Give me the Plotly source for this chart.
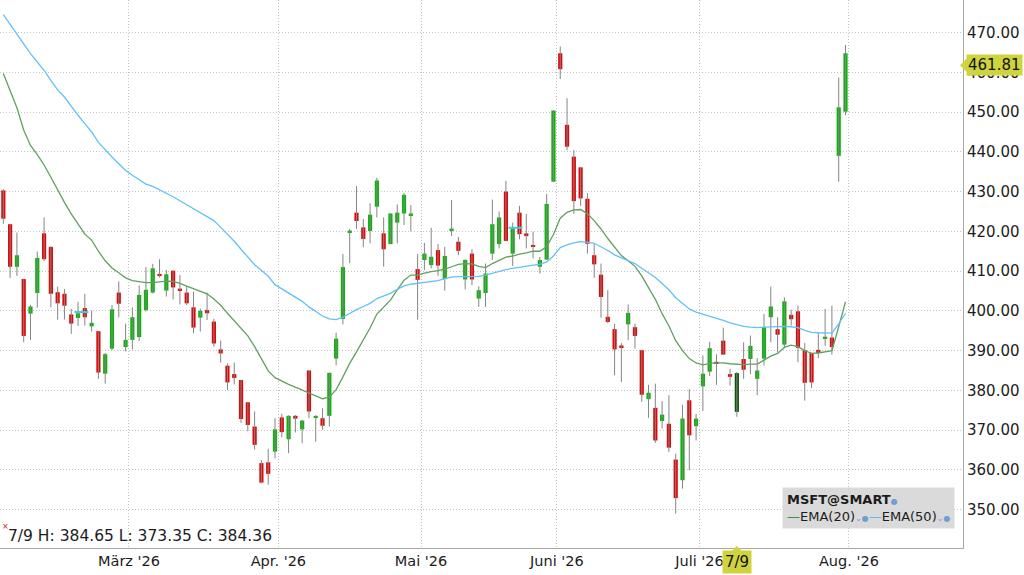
"""
MSFT daily candles (Feb - Jul 2026) with EMA(20) / EMA(50) overlays.
"""

import plotly.graph_objs as go

# trading-day index -> OHLC
opens = [
    430.3, 421.8, 411.1, 408.0, 399.3, 404.5, 419.5, 416.1, 404.7, 404.3,
    399.1, 398.2, 400.7, 396.1, 394.9, 384.2, 390.5, 404.6, 390.9, 392.7,
    393.4, 400.2, 404.6, 409.3, 405.1, 410.1, 405.6, 404.6, 400.9, 398.3,
    400.2, 397.3, 390.3, 386.2, 384.1, 382.6, 377.0, 370.9, 361.7, 361.9,
    364.6, 373.2, 367.7, 373.6, 370.2, 385.0, 373.1, 373.0, 373.6, 388.0,
    398.0, 419.8, 424.7, 421.0, 420.1, 426.2, 419.5, 416.8, 422.2, 424.5,
    424.1, 410.5, 412.8, 411.5, 415.3, 408.0, 420.2, 417.4, 407.9, 414.4,
    403.1, 404.5, 414.4, 416.8, 430.0, 414.4, 424.7, 419.5, 416.5, 411.1,
    412.9, 432.5, 464.8, 446.8, 438.8, 436.1, 428.2, 414.0, 409.1, 398.5,
    395.4, 391.3, 396.6, 395.9, 390.1, 377.8, 375.6, 372.3, 371.6, 362.6,
    357.4, 377.5, 371.0, 381.0, 384.7, 387.2, 392.5, 384.1, 374.6, 387.9,
    387.9, 382.9, 388.0, 398.4, 395.4, 391.5, 399.0, 399.9, 390.1, 389.4,
    390.2, 393.1, 393.3, 439.0, 450.1,
]
highs = [
    430.6, 421.9, 419.7, 408.1, 401.5, 414.9, 423.5, 416.2, 406.1, 405.5,
    400.5, 402.3, 404.3, 400.1, 395.0, 389.4, 401.5, 407.4, 396.8, 400.9,
    406.4, 411.0, 411.8, 413.0, 410.3, 410.2, 409.0, 406.2, 404.8, 400.6,
    404.6, 398.0, 392.5, 386.8, 387.0, 382.7, 377.1, 374.7, 362.5, 365.3,
    373.0, 374.1, 373.7, 373.8, 372.6, 385.1, 373.8, 375.5, 384.5, 394.5,
    414.3, 420.6, 431.4, 423.1, 427.1, 433.5, 423.5, 424.6, 426.8, 429.7,
    426.6, 414.3, 417.1, 420.9, 416.8, 416.1, 427.9, 418.6, 413.0, 415.5,
    406.2, 411.9, 428.0, 425.0, 432.7, 422.2, 426.4, 424.4, 419.9, 413.6,
    429.4, 450.5, 466.5, 453.5, 440.5, 436.2, 429.6, 416.9, 411.9, 405.2,
    396.8, 391.9, 401.6, 396.8, 390.2, 381.4, 381.7, 377.3, 378.8, 364.1,
    376.4, 380.3, 374.1, 388.8, 392.2, 389.1, 395.8, 385.4, 384.65, 392.1,
    393.8, 388.1, 399.2, 406.1, 398.4, 403.4, 400.3, 401.3, 391.9, 389.5,
    394.4, 400.5, 401.3, 458.7, 466.9,
]
lows = [
    421.9, 408.3, 408.8, 392.1, 392.7, 400.8, 412.5, 400.9, 397.8, 397.8,
    394.2, 396.2, 396.3, 394.8, 382.9, 381.7, 390.1, 398.4, 389.8, 390.3,
    392.4, 399.8, 404.4, 408.4, 403.6, 402.9, 401.6, 401.5, 394.4, 394.8,
    397.7, 391.0, 387.0, 380.1, 381.5, 371.8, 369.7, 365.1, 356.6, 356.3,
    362.9, 368.2, 364.2, 369.4, 366.7, 373.0, 367.1, 370.1, 370.9, 386.3,
    396.6, 412.0, 420.6, 416.0, 417.0, 423.5, 411.1, 416.7, 417.0, 421.6,
    420.0, 397.8, 410.3, 410.7, 408.8, 405.1, 418.8, 414.0, 405.4, 406.5,
    401.0, 401.0, 412.8, 415.7, 417.5, 411.3, 418.0, 415.7, 413.2, 409.4,
    412.8, 432.4, 458.3, 440.4, 424.4, 426.4, 414.4, 408.3, 398.3, 396.9,
    383.8, 382.1, 392.6, 390.5, 377.1, 373.1, 366.8, 370.4, 364.5, 349.0,
    355.3, 359.9, 367.4, 374.8, 383.6, 381.4, 388.9, 381.2, 373.35, 382.9,
    384.1, 378.8, 386.3, 392.1, 389.6, 390.7, 396.3, 387.1, 377.4, 380.6,
    388.1, 391.2, 389.0, 432.5, 449.3,
]
closes = [
    423.2, 411.1, 414.0, 393.7, 401.1, 413.3, 413.0, 404.3, 401.9, 401.3,
    396.8, 399.4, 398.4, 397.0, 384.5, 389.1, 400.4, 401.8, 392.7, 398.4,
    404.0, 405.3, 410.7, 408.9, 409.2, 405.9, 405.1, 401.9, 395.8, 400.0,
    399.4, 391.8, 389.3, 382.0, 383.1, 372.8, 371.3, 366.3, 356.8, 359.0,
    370.2, 369.5, 373.6, 372.9, 372.4, 374.7, 373.5, 371.1, 384.4, 393.0,
    411.0, 420.2, 422.6, 418.1, 424.2, 432.8, 415.5, 424.5, 424.7, 429.2,
    424.5, 407.8, 414.4, 413.6, 411.4, 413.8, 420.7, 415.1, 412.8, 407.9,
    405.2, 409.4, 421.8, 423.5, 417.6, 420.7, 419.3, 418.8, 416.1, 412.8,
    426.9, 450.4, 460.8, 441.3, 427.6, 428.3, 416.9, 411.7, 403.5, 397.2,
    390.3, 390.8, 399.5, 393.7, 378.9, 379.4, 367.4, 373.9, 365.6, 352.9,
    372.9, 368.7, 372.9, 384.2, 390.6, 386.8, 389.0, 383.4, 384.36, 385.2,
    391.2, 385.0, 395.9, 401.1, 394.0, 402.4, 397.9, 390.7, 381.9, 382.0,
    389.4, 393.5, 390.9, 451.2, 464.8,
]

ema20 = [
    459.7, 455.5, 451.1, 445.5, 441.6, 439.3, 436.7, 433.6, 430.3, 427.3,
    424.4, 421.7, 419.3, 417.8, 415.0, 412.6, 410.8, 409.6, 408.3, 407.6,
    407.3, 407.1, 407.1, 407.3, 407.5, 407.4, 406.9, 406.2, 405.5, 404.9,
    404.3, 403.0, 401.4, 399.4, 397.5, 395.6, 393.7, 391.0, 387.8, 384.9,
    383.2, 382.3, 381.5, 380.8, 380.1, 379.4, 378.5, 377.9, 378.3, 380.2,
    383.4, 386.8, 389.7, 392.6, 395.7, 399.2, 401.0, 402.7, 405.3, 407.7,
    409.0, 409.0, 409.5, 409.9, 410.1, 410.5, 411.1, 411.7, 411.9, 411.8,
    411.2, 410.9, 411.9, 412.8, 413.5, 413.8, 414.3, 414.6, 415.0, 415.0,
    416.2, 419.2, 423.3, 424.8, 425.4, 425.5, 424.4, 422.7, 420.6, 418.2,
    415.9, 413.9, 412.6, 411.2, 408.8, 406.0, 402.9, 399.3, 396.2, 392.5,
    390.0, 388.0, 386.9, 386.4, 386.8, 386.9, 386.9, 386.7, 386.6, 386.5,
    386.6, 386.6, 387.6, 388.6, 389.3, 390.8, 391.4, 391.0, 390.0, 389.3,
    389.4, 389.7, 390.0, 396.0, 402.3,
]
ema50 = [
    474.5, 472.1, 469.7, 467.0, 464.7, 462.6, 460.5, 458.0, 455.6, 453.8,
    451.4, 449.2, 447.1, 445.0, 442.4, 440.5, 438.7, 437.0, 435.3, 434.1,
    433.0, 431.9, 431.3, 430.5, 429.6, 428.7, 427.7, 426.7, 425.6, 424.6,
    423.7, 422.7, 421.0, 419.3, 417.5, 415.5, 413.6, 411.6, 410.2, 408.7,
    406.6, 405.6, 404.6, 403.6, 402.4, 401.0, 399.9, 398.7, 398.0, 397.8,
    398.4, 399.4, 400.3, 401.1, 401.9, 403.1, 403.7, 404.4, 405.4, 406.3,
    406.7, 406.9, 407.1, 407.3, 407.6, 408.1, 408.5, 408.6, 408.6, 408.7,
    408.7, 409.0, 409.5, 410.0, 410.4, 410.7, 411.0, 411.3, 411.5, 411.7,
    412.3, 413.8, 415.9, 416.6, 417.1, 417.4, 417.3, 417.0, 416.2, 415.2,
    414.1, 413.4, 412.8, 411.9, 410.7, 409.6, 408.4, 406.9, 405.3, 403.3,
    401.9, 400.5, 399.7, 399.2, 398.7, 398.2, 397.6, 397.0, 396.5, 396.1,
    395.9, 395.8, 395.9, 396.0, 396.0, 396.1, 396.0, 395.8, 395.1, 394.6,
    394.5, 394.5, 394.4, 396.7, 399.4,
]

# first trading day of each month (index into the arrays above)
month_start_idx = [19, 41, 62, 82, 103, 125]
month_labels = ["März '26", "Apr. '26", "Mai '26", "Juni '26", "Juli '26", "Aug. '26"]

# small event markers drawn on the chart
event_idx = [11.5, 75.4]
event_price = [399.7, 420.9]

selected_idx = 108          # crosshair bar (7/9)
selected_label = "7/9"
last_price = 461.81

GREEN = "#0fb20f"
RED = "#de0a0a"
DARK_GREEN = "#0b560b"
YELLOW = "#cfd33d"
FONT = "DejaVu Sans"

n = len(closes)
idx = list(range(n))

colors = []
for i in idx:
    if i == selected_idx:
        colors.append(DARK_GREEN)
    elif closes[i] >= opens[i]:
        colors.append(GREEN)
    else:
        colors.append(RED)

# wicks: one vertical segment per bar
wick_x, wick_y = [], []
for i in idx:
    wick_x += [i, i, None]
    wick_y += [lows[i], highs[i], None]

body_base = [min(o, c) for o, c in zip(opens, closes)]
body_height = [abs(c - o) for o, c in zip(opens, closes)]

fig = go.Figure()
fig.add_trace(go.Scatter(
    x=wick_x, y=wick_y, mode="lines",
    line=dict(color="#858585", width=1),
    hoverinfo="skip", name="wick"
))
fig.add_trace(go.Bar(
    x=idx, y=body_height, base=body_base,
    marker=dict(color=colors, line=dict(width=0)),
    width=0.62, name="MSFT"
))
fig.add_trace(go.Scatter(
    x=idx, y=ema20, mode="lines",
    line=dict(color="#62a062", width=1.3), name="EMA(20)"
))
fig.add_trace(go.Scatter(
    x=idx, y=ema50, mode="lines",
    line=dict(color="#66c0f7", width=1.3), name="EMA(50)"
))
fig.add_trace(go.Scatter(
    x=event_idx, y=event_price, mode="markers",
    marker=dict(symbol="line-ew", size=10, line=dict(color="#3fcbe0", width=2)),
    name="events"
))

grid = dict(showgrid=True, gridcolor="#c4c4c4", griddash="1px,2px", gridwidth=1,
            zeroline=False, showline=True, linecolor="#a8a8a8", linewidth=1, ticks="")

fig.update_layout(
    width=1024, height=575,
    margin=dict(l=0, r=61, t=0, b=27),
    plot_bgcolor="white", paper_bgcolor="white",
    showlegend=False,
    font=dict(family=FONT, size=15, color="#1c1c1c"),
    xaxis=dict(
        range=[-0.49, 141.3],
        tickvals=[m - 0.5 for m in month_start_idx],
        ticktext=month_labels,
        tickfont=dict(size=14.5),
        **grid
    ),
    yaxis=dict(
        side="right",
        range=[340.35, 478.2],
        dtick=10,
        tickformat=".2f",
        tickfont=dict(size=15),
        **grid
    ),
)

# last price tag on the right axis
fig.add_annotation(
    x=1, xref="paper", xanchor="left", xshift=3,
    y=last_price, yref="y", yanchor="middle",
    text=f"{last_price:.2f}", showarrow=False,
    bgcolor=YELLOW, borderpad=1, font=dict(size=15, color="#111")
)
fig.add_shape(
    type="path", xref="paper", xsizemode="pixel", xanchor=1,
    yref="y", ysizemode="pixel", yanchor=last_price,
    path="M -3 0 L 4 7 L 4 -7 Z",
    fillcolor=YELLOW, line=dict(width=0)
)

# crosshair date tag on the x axis
fig.add_annotation(
    x=selected_idx, xref="x", y=0, yref="paper", yanchor="top", yshift=-2,
    text=selected_label, showarrow=False,
    bgcolor=YELLOW, borderpad=2, font=dict(size=15, color="#111")
)
fig.add_shape(
    type="path", xref="x", xsizemode="pixel", xanchor=selected_idx,
    yref="paper", ysizemode="pixel", yanchor=0,
    path="M -5 -3 L 0 2 L 5 -3 Z",
    fillcolor=YELLOW, line=dict(width=0)
)

# OHLC readout for the crosshair bar
fig.add_annotation(
    x=0, xref="paper", xanchor="left", xshift=6,
    y=0, yref="paper", yanchor="bottom", yshift=1,
    text=f"{selected_label} H: {highs[selected_idx]:.2f} L: {lows[selected_idx]:.2f} "
         f"C: {closes[selected_idx]:.2f}",
    showarrow=False, font=dict(size=15.5, color="#1c1c1c")
)
fig.add_annotation(
    x=0, xref="paper", xanchor="left", xshift=0,
    y=0, yref="paper", yanchor="bottom", yshift=15,
    text="×", showarrow=False, font=dict(size=8, color="#c02020")
)

# legend box
dot = "<span style='color:#6f9fd0;font-size:8px'>●</span>"
chev = "<span style='color:#6f9fd0;font-size:8px'>⌄</span>"
fig.add_annotation(
    x=0.812, xref="paper", xanchor="left",
    y=0.1114, yref="paper", yanchor="top",
    align="left", showarrow=False,
    bgcolor="rgba(214,214,214,0.9)", borderpad=4,
    font=dict(size=13, color="#1c1c1c"),
    text=("<b>MSFT@SMART</b>" + dot + "<br>"
          "<span style='color:#3f8f3f'>—</span>EMA(20)" + chev + dot
          + "<span style='color:#62bdf6'>—</span>EMA(50)" + chev + dot)
)

# page body has a default 8px margin; drop it so the figure sits at the window origin
fig.write_html("out.html", config={"displayModeBar": False},
               post_script="document.body.style.margin = '0';")
